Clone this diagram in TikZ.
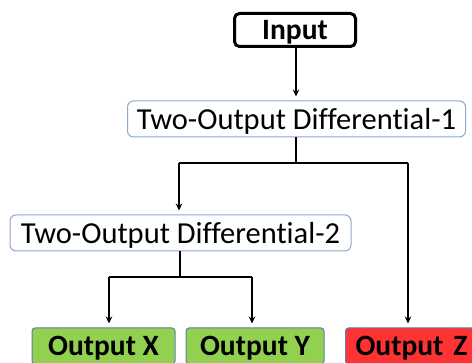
\documentclass[tikz,border=0pt]{standalone}
\usepackage{fontspec}
\setmainfont[Ligatures={NoCommon}]{Carlito}
\usetikzlibrary{arrows.meta}
\definecolor{boxline}{HTML}{8EA9D0}
\definecolor{outline}{HTML}{5B7FAF}
\definecolor{okgreen}{HTML}{92D050}
\definecolor{badred}{HTML}{FF3333}
\tikzset{
  inbox/.style={draw=black, line width=3pt, rounded corners=5pt, fill=white,
    minimum width=121pt, minimum height=33pt, inner sep=0pt, text depth=0pt,
    font=\fontsize{29.5}{30}\selectfont\bfseries},
  diffbox/.style={draw=boxline, line width=1pt, rounded corners=6pt, fill=white,
    minimum height=36pt, inner sep=0pt, text depth=0pt, font=\fontsize{30.5}{31}\selectfont},
  outbox/.style={draw=outline, line width=1pt, rounded corners=3pt,
    minimum height=36pt, inner sep=0pt, text depth=0pt, font=\fontsize{29.5}{30}\selectfont\bfseries},
  conn/.style={draw=black, line width=2pt},
  arr/.style={conn, -{Stealth[length=7pt,width=6.5pt]}, shorten >=4pt}
}
\begin{document}
\begin{tikzpicture}[x=1pt,y=-1pt]
\useasboundingbox (0,0) rectangle (472,363);
\clip (0,0) rectangle (472,363);
\fill[white] (0,0) rectangle (472,363);
\node[inbox] (in) at (295,30) {Input};
\node[diffbox, minimum width=338pt] (d1) at (296.5,119) {Two-Output Differential-1};
\node[diffbox, minimum width=341pt] (d2) at (180.5,233) {Two-Output Differential-2};
\node[outbox, fill=okgreen, minimum width=143pt] (ox) at (103.5,346) {Output X};
\node[outbox, fill=okgreen, minimum width=138pt] (oy) at (255,346) {Output Y};
\node[outbox, fill=badred, anchor=west, inner xsep=10pt, text width=120pt, align=left] (oz) at (345,346) {Output Z};
\coordinate (j1) at (296,163);
\coordinate (j1l) at (179,163);
\coordinate (j1r) at (408,163);
\coordinate (j2) at (180,277);
\coordinate (j2l) at (109,277);
\coordinate (j2r) at (252,277);
\draw[arr] (in.south -| 296,0) -- (d1.north -| 296,0);
\draw[conn] (d1.south -| j1) -- (j1);
\draw[conn] (j1l) -- (j1r);
\draw[arr] (j1l) -- (j1l |- d2.north);
\draw[arr] (j1r) -- (j1r |- oz.north);
\draw[conn] (d2.south -| j2) -- (j2);
\draw[conn] (j2l) -- (j2r);
\draw[arr] (j2l) -- (j2l |- ox.north);
\draw[arr] (j2r) -- (j2r |- oy.north);
\end{tikzpicture}
\end{document}
